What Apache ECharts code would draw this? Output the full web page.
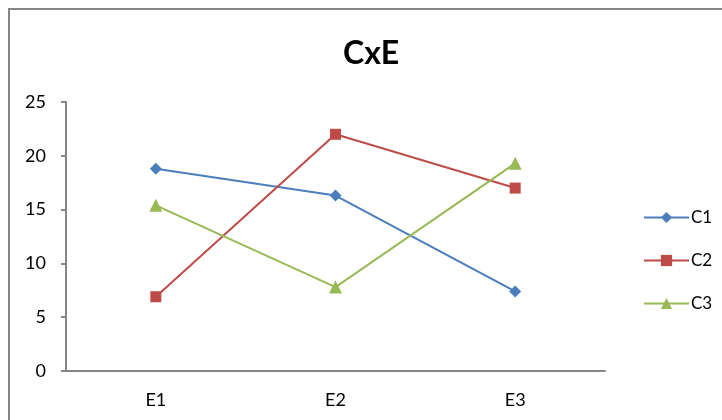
<!DOCTYPE html>
<html>
<head>
<meta charset="utf-8">
<script src="https://cdn.jsdelivr.net/npm/echarts@6/dist/echarts.min.js"></script>
<style>
  html, body { margin: 0; padding: 0; background: #fff; }
  #chart { width: 722px; height: 420px; }
</style>
</head>
<body>
<div id="chart"></div>
<script>
// Categories and series values
const categories = ['E1', 'E2', 'E3'];
const seriesNames = ['C1', 'C2', 'C3'];
const c1Values = [18.8, 16.3, 7.4];
const c2Values = [6.9, 22.0, 17.0];
const c3Values = [15.4, 7.8, 19.3];
const yTicks = { min: 0, max: 25, interval: 5 };

const FONT = 'Lato, "Open Sans", "Liberation Sans", sans-serif';
const AXIS_GREY = '#868686';

const chart = echarts.init(document.getElementById('chart'), null, { renderer: 'canvas' });

const styles = [
  { color: '#4A7EBB', symbol: 'diamond', size: 12 },
  { color: '#BE4B48', symbol: 'rect', size: 11 },
  { color: '#98B954', symbol: 'triangle', size: 13 }
];
const values = [c1Values, c2Values, c3Values];

chart.setOption({
  animation: false,
  backgroundColor: '#ffffff',
  title: {
    text: 'CxE',
    left: 338,
    top: 33,
    textStyle: { fontFamily: FONT, fontWeight: 'bold', fontSize: 32, color: '#000' }
  },
  graphic: [{
    type: 'rect',
    shape: { x: 9, y: 9, width: 800, height: 500 },
    style: { fill: 'none', stroke: AXIS_GREY, lineWidth: 2 },
    silent: true
  }],
  legend: {
    orient: 'vertical',
    left: 638,
    top: 204,
    itemWidth: 45,
    itemHeight: 14,
    itemGap: 26,
    textStyle: { fontFamily: FONT, fontSize: 17, color: '#000', padding: [0, 0, 0, -3] },
    data: seriesNames
  },
  grid: { left: 66, right: 117, top: 102, bottom: 49 },
  xAxis: {
    type: 'category',
    data: categories,
    boundaryGap: true,
    axisLine: { lineStyle: { color: AXIS_GREY, width: 2 } },
    axisTick: { show: false },
    axisLabel: { margin: 20, fontFamily: FONT, fontSize: 18, color: '#000' },
    splitLine: { show: false }
  },
  yAxis: {
    type: 'value',
    min: yTicks.min,
    max: yTicks.max,
    interval: yTicks.interval,
    axisLine: { show: true, lineStyle: { color: AXIS_GREY, width: 2 } },
    axisTick: { show: true, length: 5, lineStyle: { color: AXIS_GREY, width: 2 } },
    axisLabel: { margin: 20, fontFamily: FONT, fontSize: 18, color: '#000' },
    splitLine: { show: false }
  },
  series: seriesNames.map((name, i) => ({
    name,
    type: 'line',
    data: values[i],
    symbol: styles[i].symbol,
    symbolSize: styles[i].size,
    showAllSymbol: true,
    lineStyle: { color: styles[i].color, width: 2 },
    itemStyle: { color: styles[i].color },
    emphasis: { disabled: true }
  }))
});
</script>
</body>
</html>
